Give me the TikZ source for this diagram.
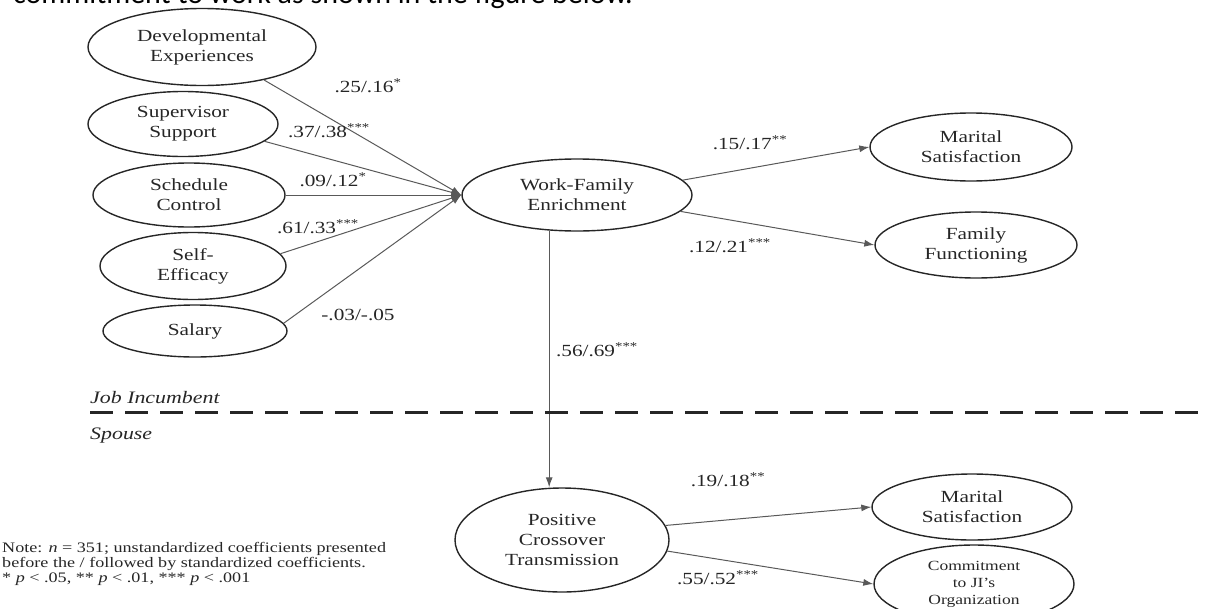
\documentclass[tikz,border=0pt]{standalone}
\usepackage{fontspec}
\setmainfont{Liberation Serif}[FakeStretch=1.25]
\newfontfamily\calib{Carlito}
\usetikzlibrary{arrows.meta,shapes.geometric}
\begin{document}
\begin{tikzpicture}[x=1pt,y=-1pt,
  ell/.style={draw=black!85, line width=1.4pt, ellipse, inner sep=0pt, align=center,
    font=\fontsize{17}{20}\selectfont, text=black!85},
  lab/.style={font=\fontsize{17}{20}\selectfont, text=black!85, inner sep=0pt},
  arr/.style={draw=black!65, line width=1pt, -{Latex[length=10pt,width=7pt]}},
  side/.style={font=\fontsize{17.5}{18}\selectfont\itshape, anchor=base west, inner sep=0pt, text=black!85},
  note/.style={font=\fontsize{14.5}{15}\selectfont, anchor=base west, inner sep=0pt, text=black!85}]
\useasboundingbox (0,0) rectangle (1206,608);
\clip (0,0) rectangle (1206,608);
% cut-off text at the top
\node[anchor=base west, inner sep=0pt, font=\calib\fontsize{30}{30}\selectfont] (top) at (13,3) {commitment to work as shown in the figure below.};
% predictors
\node[ell, minimum width=228pt, minimum height=77pt] (dev) at (202,47) {Developmental\\Experiences};
\node[ell, minimum width=190pt, minimum height=65pt] (sup) at (183,124) {Supervisor\\Support};
\node[ell, minimum width=192pt, minimum height=64pt] (sch) at (189,195) {Schedule\\Control};
\node[ell, minimum width=186pt, minimum height=67pt] (eff) at (193,266) {Self-\\Efficacy};
\node[ell, minimum width=184pt, minimum height=52pt] (sal) at (195,331) {Salary};
% mediator
\node[ell, minimum width=230pt, minimum height=72pt] (wfe) at (577,195) {Work-Family\\Enrichment};
% outcomes (job incumbent)
\node[ell, minimum width=202pt, minimum height=68pt] (ms1) at (971,147) {Marital\\Satisfaction};
\node[ell, minimum width=202pt, minimum height=66pt] (ff) at (976,245) {Family\\Functioning};
% spouse
\node[ell, minimum width=214pt, minimum height=104pt] (pct) at (562,540) {Positive\\Crossover\\Transmission};
\node[ell, minimum width=200pt, minimum height=66pt] (ms2) at (972,507) {Marital\\Satisfaction};
\node[ell, minimum width=200pt, minimum height=78pt, font=\fontsize{14}{17}\selectfont] (cj) at (974,584) {Commitment\\to JI's\\Organization};
% paths into WFE
\draw[arr] (dev.-28) -- (wfe.west);
\draw[arr] (sup.-12) -- (wfe.west);
\draw[arr] (sch.east) -- (wfe.west);
\draw[arr] (eff.8) -- (wfe.west);
\draw[arr] (sal.5) -- (wfe.west);
% paths out of WFE
\draw[arr] (wfe.8) -- (ms1.west);
\draw[arr] (wfe.-9) -- (ff.west);
\draw[arr] (wfe.232) -- (wfe.232 |- pct.north);
\draw[arr] (pct.8) -- (ms2.west);
\draw[arr] (pct.-6) -- (cj.west);
% coefficient labels
\node[lab] (l1) at (368,86) {.25/.16\textsuperscript{*}};
\node[lab] (l2) at (329,131) {.37/.38\textsuperscript{***}};
\node[lab] (l3) at (333,180) {.09/.12\textsuperscript{*}};
\node[lab] (l4) at (318,227) {.61/.33\textsuperscript{***}};
\node[lab] (l5) at (358,315) {-.03/-.05};
\node[lab] (l6) at (750,143) {.15/.17\textsuperscript{**}};
\node[lab] (l7) at (730,246) {.12/.21\textsuperscript{***}};
\node[lab] (l8) at (597,350) {.56/.69\textsuperscript{***}};
\node[lab] (l9) at (728,480) {.19/.18\textsuperscript{**}};
\node[lab] (l10) at (718,578) {.55/.52\textsuperscript{***}};
% divider
\node[side] (ji) at (90,403) {Job Incumbent};
\node[side] (sp) at (90,439) {Spouse};
\coordinate (dl) at (90,412);
\coordinate (dr) at (1206,412);
\draw[line width=3pt, black!85, dash pattern=on 23pt off 12pt] (dl) -- (dr);
% note
\node[note] (n1) at (2,552) {Note: \textit{n} = 351; unstandardized coefficients presented};
\node[note] (n2) at (2,567) {before the / followed by standardized coefficients.};
\node[note] (n3) at (2,582) {* \textit{p} < .05, ** \textit{p} < .01, *** \textit{p} < .001};
\end{tikzpicture}
\end{document}
